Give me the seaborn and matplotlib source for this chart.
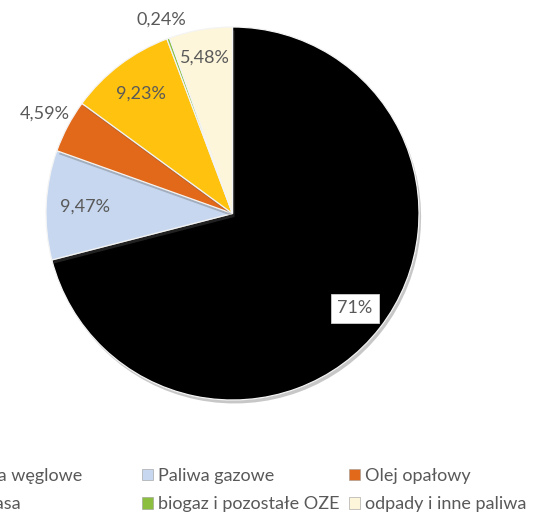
import matplotlib
matplotlib.use("Agg")
import matplotlib.pyplot as plt
import matplotlib.patheffects as pe
from matplotlib.patches import Patch
import numpy as np
import seaborn as sns

# Struktura zużycia paliw (%)
categories = ["Paliwa węglowe", "Paliwa gazowe", "Olej opałowy",
              "Biomasa", "biogaz i pozostałe OZE", "odpady i inne paliwa"]
shares = [71.0, 9.47, 4.59, 9.23, 0.24, 5.48]
value_labels = ["71%", "9,47%", "4,59%", "9,23%", "0,24%", "5,48%"]
colors = ["#000000", "#c6d7ef", "#e2681a", "#ffc20e", "#8cbf3f", "#fdf6da"]
# radial position of each value label (fraction of radius)
label_radius = [0.83, 0.79, 1.14, 0.81, 1.11, 0.85]

sns.set_theme(style="white")
plt.rcParams["font.family"] = ["Lato", "DejaVu Sans"]

W, H, DPI = 538, 522, 100
fig = plt.figure(figsize=(W / DPI, H / DPI), dpi=DPI)
fig.patch.set_facecolor("white")

cx, cy, R = 232.5, 213.5, 186.5
ax = fig.add_axes([0, 0, 1, 1])

wedges, _ = ax.pie(shares, colors=colors, startangle=90, counterclock=False,
                   radius=1.0, center=(0, 0), labels=None,
                   wedgeprops=dict(edgecolor="#f4f4f4", linewidth=0.9))
for w in wedges:
    w.set_path_effects([pe.SimplePatchShadow(offset=(1.5, -2.5), alpha=0.35,
                                             shadow_rgbFace="#606060"),
                        pe.Normal()])

# pie() resets the limits, so the view is fixed afterwards
ax.set_xlim(-cx / R, (W - cx) / R)
ax.set_ylim(-(H - cy) / R, cy / R)
ax.set_aspect("equal")
ax.axis("off")

text_color = "#595959"
for w, lab, rr in zip(wedges, value_labels, label_radius):
    ang = np.deg2rad((w.theta1 + w.theta2) / 2)
    x, y = rr * np.cos(ang), rr * np.sin(ang)
    kw = dict(ha="center", va="center", fontsize=13, color=text_color)
    if lab == "71%":
        kw["bbox"] = dict(boxstyle="square,pad=0.35", facecolor="white",
                          edgecolor="#d0d0d0", linewidth=0.6)
    ax.text(x, y, lab, **kw)

handles = [Patch(facecolor=c, edgecolor="#9a9a9a", linewidth=0.4) for c in colors]

leg_kw = dict(frameon=False, fontsize=13, handlelength=0.6, handleheight=0.6,
              handletextpad=0.3, labelspacing=0.7, borderpad=0,
              borderaxespad=0, labelcolor=text_color)

# first column (węglowe / Biomasa)
leg1 = fig.legend([handles[0], handles[3]], [categories[0], categories[3]],
                  loc="center right", bbox_to_anchor=(82 / W, 1 - 490 / H),
                  ncol=1, **leg_kw)
# remaining columns
order = [1, 4, 2, 5]
leg2 = fig.legend([handles[i] for i in order], [categories[i] for i in order],
                  loc="center left", bbox_to_anchor=(142 / W, 1 - 490 / H),
                  ncol=2, columnspacing=0.5, **leg_kw)

fig.savefig("out.png", dpi=DPI, facecolor="white")
